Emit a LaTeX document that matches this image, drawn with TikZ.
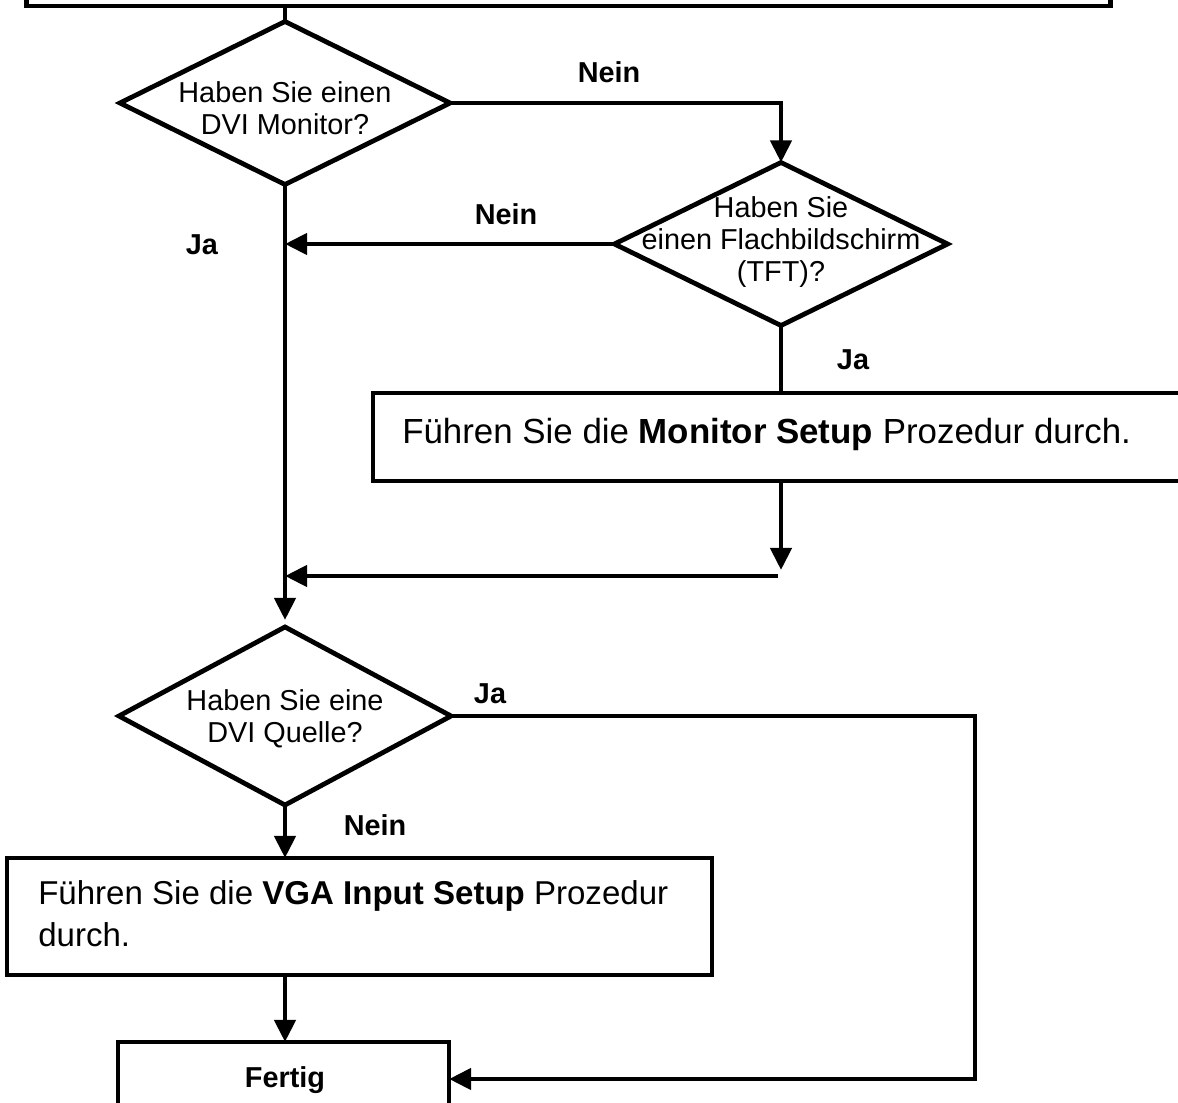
\documentclass[tikz,border=0pt]{standalone}
\usepackage{fontspec}
\setmainfont{Liberation Sans}
\usepackage{tikz}
\usetikzlibrary{shapes.geometric,arrows.meta,calc}

\tikzset{
  dec/.style={diamond, draw, line width=3.4pt, inner sep=0pt, outer sep=0pt},
  stepbox/.style={rectangle, draw, line width=3.4pt, inner sep=0pt, outer sep=0pt},
  qtext/.style={font=\fontsize{20.5}{23}\selectfont, align=center, inner sep=0pt},
  btext/.style={font=\fontsize{24}{30}\selectfont, align=left, inner sep=0pt},
  lbl/.style={font=\fontsize{20.5}{23}\selectfont\bfseries, inner sep=0pt},
  line/.style={line width=3.4pt},
  arr/.style={line, -{Triangle[length=5.5mm,width=5.2mm]}},
}

\begin{document}
\begin{tikzpicture}[x=0.025cm, y=-0.025cm]
\useasboundingbox (0,0) rectangle (1178,1103);
\clip (0,0) rectangle (1178,1103);

\node[stepbox, minimum width=27.075cm, minimum height=1.65cm] (top) at (568.5,-27) {};

\node[dec, minimum width=8.25cm, minimum height=4.075cm] (dvi) at (285,103) {};
\node[qtext] (dvi-t) at (285,108) {Haben Sie einen\\DVI Monitor?};

\node[dec, minimum width=8.325cm, minimum height=4.075cm] (tft) at (781,244) {};
\node[qtext] (tft-t) at (781,242) {Haben Sie\\einen Flachbildschirm\\(TFT)?};

\node[stepbox, minimum width=20.675cm, minimum height=2.2cm] (mon) at (786.5,437) {};
\node[btext, font=\fontsize{24.8}{30}\selectfont, anchor=west] (mon-t) at (402,434) {Führen Sie die \textbf{Monitor Setup} Prozedur durch.};

\node[dec, minimum width=8.3cm, minimum height=4.45cm] (src) at (285,716) {};
\node[qtext] (src-t) at (285,719) {Haben Sie eine\\DVI Quelle?};

\node[stepbox, minimum width=17.625cm, minimum height=2.925cm] (vga) at (359.5,916.5) {};
\node[btext, font=\fontsize{23.5}{30}\selectfont, anchor=west] (vga-t) at (38,914) {Führen Sie die \textbf{VGA Input Setup} Prozedur\\durch.};

\node[stepbox, minimum width=8.275cm, minimum height=2.2cm] (done) at (283.5,1086) {};
\node[lbl] (done-t) at (285,1080) {Fertig};

\node[lbl] (nein1) at (609,72) {Nein};
\node[lbl] (nein2) at (506,214) {Nein};
\node[lbl] (ja1) at (202,245) {Ja};
\node[lbl] (ja2) at (853,360) {Ja};
\node[lbl] (ja3) at (490,694) {Ja};
\node[lbl] (nein3) at (375,825) {Nein};

\coordinate (m1) at (781,570);
\coordinate (j1) at (778,576);
\coordinate (j2) at (285,576);
\coordinate (s1) at (285,620);
\coordinate (r1) at (975,716);
\coordinate (r2) at (975,1079);

\draw[line] (top.south -| dvi.north) -- (dvi.north);
\draw[arr] (dvi.east) -| (tft.north);
\draw[arr] (tft.west) -- (tft.west -| dvi.south);
\draw[arr] (dvi.south) -- (s1);
\draw[line] (tft.south) -- (tft.south |- mon.north);
\draw[arr] (tft.south |- mon.south) -- (m1);
\draw[arr] (j1) -- (j2);
\draw[arr] (src.east) -- (r1) -- (r2) -- (r2 -| done.east);
\draw[arr] (src.south) -- (src.south |- vga.north);
\draw[arr] (vga.south -| src.south) -- (done.north -| src.south);
\end{tikzpicture}
\end{document}
